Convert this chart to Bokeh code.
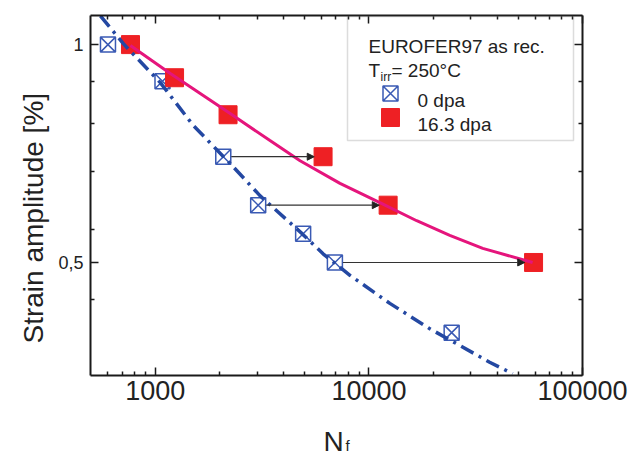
import numpy as np
from bokeh.plotting import figure
from bokeh.models import (LogAxis, FixedTicker, Range1d, Arrow, NormalHead,
                          BoxAnnotation, Label, ColumnDataSource, CustomJSTickFormatter)
from bokeh.embed import file_html
from bokeh.resources import INLINE

# ---------------- data ----------------
n0_cycles = [600, 1080, 2080, 3030, 4920, 6930, 24400]
n0_strain = [1.0, 0.89, 0.7, 0.6, 0.548, 0.5, 0.4]

n16_cycles = [765, 1230, 2190, 6100, 12300, 59000]
n16_strain = [1.0, 0.9, 0.8, 0.7, 0.6, 0.5]

fit0_cycles = [553, 708, 1055, 1506, 2240, 3095, 4865, 6100, 8150, 12530, 19280, 26620, 36750, 47080]
fit0_strain = [1.096, 1.003, 0.886, 0.773, 0.685, 0.618, 0.548, 0.514, 0.480, 0.439, 0.405, 0.384, 0.364, 0.351]

fit16_cycles = [764, 1175, 2240, 3441, 4760, 7320, 11250, 16740, 23910, 34120, 58400]
fit16_strain = [0.997, 0.912, 0.803, 0.737, 0.691, 0.643, 0.605, 0.571, 0.545, 0.523, 0.500]

shift_strain = [0.7, 0.6, 0.5]
shift_from = [2080, 3030, 6930]
shift_to = [6100, 12300, 59000]

x_major = [1000, 10000, 100000]
x_minor = [600, 700, 800, 900, 2000, 3000, 4000, 5000, 6000, 7000, 8000, 9000,
           20000, 30000, 40000, 50000, 60000, 70000, 80000, 90000]
y_major = [0.5, 1.0]
y_minor = [0.444, 0.556, 0.667, 0.778, 0.889]

legend_title = "EUROFER97 as rec."
legend_temp = "= 250°C"
legend_labels = ["0 dpa", "16.3 dpa"]
y_title = "Strain amplitude [%]"

# ---------------- layout helpers ----------------
X0, X1 = 497.0, 100000.0
Y0, Y1 = 0.349, 1.097
FL, FR, FT, FB = 90, 582, 15, 375


def px_x(px):
    return 10 ** (np.log10(X0) + (px - FL) / (FR - FL) * (np.log10(X1) - np.log10(X0)))


def px_y(py):
    return 10 ** (np.log10(Y0) + (FB - py) / (FB - FT) * (np.log10(Y1) - np.log10(Y0)))


FONT = "Liberation Sans"
TXT = "#222222"
BLUE_M = "#3a5ab4"
BLUE_L = "#2448a2"
RED = "#ee2024"
PINK = "#e5157c"

p = figure(width=629, height=458, x_axis_type="log", y_axis_type="log",
           x_range=Range1d(X0, X1), y_range=Range1d(Y0, Y1),
           output_backend="svg", toolbar_location=None,
           min_border_left=FL, min_border_right=629 - FR,
           min_border_top=FT, min_border_bottom=458 - FB)
p.grid.visible = False
p.outline_line_color = None
p.background_fill_color = "white"
p.border_fill_color = "white"

xfmt = CustomJSTickFormatter(code="return tick.toFixed(0);")
yfmt = CustomJSTickFormatter(code="return tick == 0.5 ? '0,5' : tick.toFixed(0);")
blank = CustomJSTickFormatter(code="return '';")


def style(ax, font_size, standoff):
    ax.axis_line_width = 2
    ax.axis_line_color = "#1a1a1a"
    ax.major_tick_in = 8
    ax.major_tick_out = 0
    ax.minor_tick_in = 4
    ax.minor_tick_out = 0
    ax.major_tick_line_width = 1.5
    ax.minor_tick_line_width = 1.5
    ax.major_tick_line_color = "#1a1a1a"
    ax.minor_tick_line_color = "#1a1a1a"
    ax.major_label_text_font = FONT
    ax.major_label_text_font_size = font_size
    ax.major_label_text_color = TXT
    ax.major_label_standoff = standoff
    ax.axis_label = None


xb = p.xaxis[0]
xb.ticker = FixedTicker(ticks=x_major, minor_ticks=x_minor)
xb.formatter = xfmt
style(xb, "27px", 5)

yl = p.yaxis[0]
yl.ticker = FixedTicker(ticks=y_major, minor_ticks=y_minor)
yl.formatter = yfmt
style(yl, "18px", 7)

xt = LogAxis(ticker=FixedTicker(ticks=x_major, minor_ticks=x_minor), formatter=blank)
style(xt, "1px", 0)
p.add_layout(xt, "above")

yr = LogAxis(ticker=FixedTicker(ticks=y_major, minor_ticks=y_minor), formatter=blank)
style(yr, "1px", 0)
p.add_layout(yr, "right")

# ---------------- marks ----------------
p.scatter(n0_cycles, n0_strain, marker="square_x", size=15, line_color=BLUE_M,
          line_width=1.5, fill_alpha=0)
p.scatter(n16_cycles, n16_strain, marker="square", size=18, line_color=RED,
          fill_color=RED, line_width=1)
p.line(fit0_cycles, fit0_strain, line_color=BLUE_L, line_width=3.5, line_dash="14 6 3 6")
p.line(fit16_cycles, fit16_strain, line_color=PINK, line_width=3)

arr_src = ColumnDataSource(dict(
    xs=[v * 1.09 for v in shift_from],
    xe=[v / 1.10 for v in shift_to],
    ys=shift_strain, ye=shift_strain))
p.add_layout(Arrow(source=arr_src, x_start="xs", y_start="ys", x_end="xe", y_end="ye",
                   line_color="#333333", line_width=1.2,
                   end=NormalHead(size=7, fill_color="#222222", line_color="#222222")))

# ---------------- legend box ----------------
p.add_layout(BoxAnnotation(left=px_x(347), right=px_x(573), top=px_y(16), bottom=px_y(140),
                           fill_alpha=0, line_color="#8a8a8a", line_width=1.5))
p.scatter([px_x(390)], [px_y(93)], marker="square_x", size=15, line_color=BLUE_M,
          line_width=1.5, fill_alpha=0)
p.scatter([px_x(390)], [px_y(117)], marker="square", size=18, line_color=RED, fill_color=RED)


def lab(text, px, py, size, side="center", **kw):
    p.add_layout(Label(x=px_x(px), y=px_y(py), text=text, text_font=FONT,
                       text_font_size=size, text_color=TXT, text_align="left",
                       text_baseline="alphabetic", **kw), side)


lab(legend_title, 368, 46, "19px")
lab("T", 368, 70, "19px")
lab("irr", 380, 76, "12px")
lab(legend_temp, 391, 70, "19px")
lab(legend_labels[0], 417, 100, "19px")
lab(legend_labels[1], 417, 124, "19px")

# axis titles (placed in side panels so they are not clipped to the frame)
lab(y_title, 33, 343, "28px", side="left", angle=np.pi / 2)
lab("N", 323, 441, "28px", side="below")
lab("f", 345, 445, "15px", side="below")

open("out.html", "w").write(file_html(p, INLINE))
